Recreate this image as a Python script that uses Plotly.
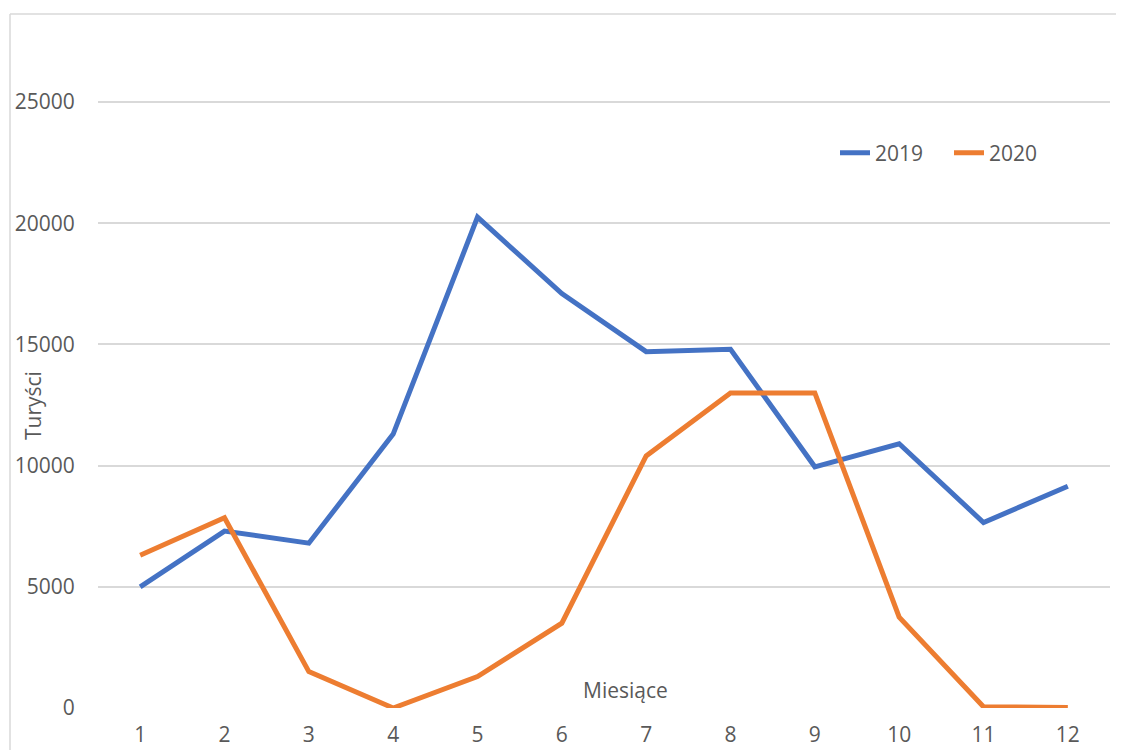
import plotly.graph_objects as go

months = ["1", "2", "3", "4", "5", "6", "7", "8", "9", "10", "11", "12"]
tourists_2019 = [5000, 7300, 6800, 11300, 20250, 17100, 14700, 14800, 9950, 10900, 7650, 9150]
tourists_2020 = [6300, 7850, 1500, 0, 1300, 3500, 10400, 13000, 13000, 3750, 50, 20]
y_ticks = [0, 5000, 10000, 15000, 20000, 25000]

# page body has an 8px margin, so the figure is drawn 8px smaller and
# reference pixel positions are converted to figure-local positions
OFF = 8
W, H = 1124 - OFF, 750 - OFF
L, R, T, B = 98 - OFF, 1110 - OFF, 46, 708 - OFF
Y25 = 102 - OFF
YMAX = 25000 * (B - T) / (B - Y25)

def px_x(x):
    return (x - OFF - L) / (R - L)

def px_y(y):
    return (B - (y - OFF)) / (B - T)

FONT = "Open Sans"
GREY = "#595959"
FS = 21

fig = go.Figure()
fig.add_trace(go.Scatter(x=months, y=tourists_2019, mode="lines", name="2019",
                         line=dict(color="#4472C4", width=5)))
fig.add_trace(go.Scatter(x=months, y=tourists_2020, mode="lines", name="2020",
                         line=dict(color="#ED7D31", width=5)))

fig.update_layout(
    width=W, height=H,
    margin=dict(l=L, r=W - R, t=T, b=H - B, pad=0, autoexpand=False),
    paper_bgcolor="white", plot_bgcolor="white",
    font=dict(family=FONT, size=FS, color=GREY),
    showlegend=True,
    legend=dict(orientation="h", x=px_x(835), y=px_y(153), xanchor="left", yanchor="middle",
                font=dict(family=FONT, size=FS, color=GREY), bgcolor="rgba(0,0,0,0)",
                entrywidth=69, entrywidthmode="pixels", tracegroupgap=0),
    xaxis=dict(type="category", range=[-0.5, 11.5], showgrid=False, zeroline=False,
               showline=False, ticks="outside", ticklen=8, tickcolor="rgba(0,0,0,0)",
               tickfont=dict(family=FONT, size=FS, color=GREY), fixedrange=True,
               automargin=False),
    yaxis=dict(range=[0, YMAX], tickvals=y_ticks, ticktext=[str(v) for v in y_ticks],
               showgrid=True, gridcolor="#D9D9D9", gridwidth=1.5, zeroline=False,
               showline=False, ticks="outside", ticklen=18, tickcolor="rgba(0,0,0,0)",
               tickfont=dict(family=FONT, size=FS, color=GREY), fixedrange=True,
               automargin=False),
    annotations=[
        dict(text="Miesiące", xref="paper", yref="paper", x=px_x(625), y=px_y(690),
             xanchor="center", yanchor="middle", showarrow=False,
             font=dict(family=FONT, size=FS, color=GREY)),
        dict(text="Turyści", xref="paper", yref="paper", x=px_x(33), y=px_y(406),
             xanchor="center", yanchor="middle", showarrow=False, textangle=-90,
             font=dict(family=FONT, size=FS, color=GREY)),
    ],
    shapes=[
        dict(type="line", xref="paper", yref="paper", x0=px_x(10), x1=px_x(1130),
             y0=px_y(14), y1=px_y(14), line=dict(color="#D9D9D9", width=1.5), layer="below"),
        dict(type="line", xref="paper", yref="paper", x0=px_x(10), x1=px_x(10),
             y0=px_y(14), y1=px_y(760), line=dict(color="#D9D9D9", width=1.5), layer="below"),
    ],
)

fig.write_html("out.html", config={"displayModeBar": False})
